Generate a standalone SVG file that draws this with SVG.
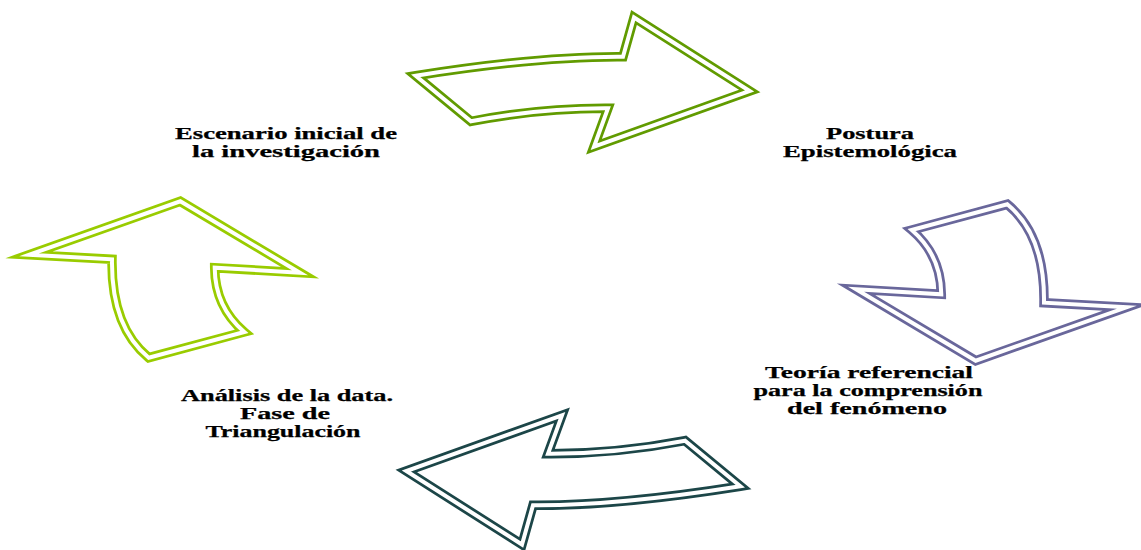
<svg xmlns="http://www.w3.org/2000/svg" width="1141" height="550" viewBox="0 0 1141 550">
  <style>
    .lbl { font-family: "Liberation Serif", "Times New Roman", serif; font-weight: bold; font-size: 16.5px; fill: #000; text-anchor: middle; stroke: #000; stroke-width: 0.25px; }
    .outer { fill: none; stroke-width: 9.5; stroke-linejoin: miter; stroke-miterlimit: 10; }
    .inner { fill: none; stroke: #fff; stroke-width: 4; stroke-linejoin: miter; stroke-miterlimit: 10; }
  </style>
  <defs>
    <path id="harrow" d="M415.7,75.7 Q540,56 623,56.7 L634,17.5 L749.7,91 L594,146.7 L608,108.3 Q540,108 471,121.3 Z"/>
    <path id="varrow" d="M911.7,230 L1007.3,204.3 Q1045,235 1044,302.7 L1126.7,307.3 L975.7,360.7 L856,289.3 L941.3,294.3 Q941,255 911.7,230 Z"/>
  </defs>
  <rect width="1141" height="550" fill="#fff"/>
  <g id="connectors">
    <g id="arrow-top">
      <use href="#harrow" class="outer" stroke="#619b00"/>
      <use href="#harrow" class="inner"/>
    </g>
    <g id="arrow-right">
      <use href="#varrow" class="outer" stroke="#69679b"/>
      <use href="#varrow" class="inner"/>
    </g>
    <g id="arrow-bottom" transform="rotate(180 578 281)">
      <use href="#harrow" class="outer" stroke="#1c4648"/>
      <use href="#harrow" class="inner"/>
    </g>
    <g id="arrow-left" transform="rotate(180 578 281)">
      <use href="#varrow" class="outer" stroke="#99cc00"/>
      <use href="#varrow" class="inner"/>
    </g>
  </g>
  <g id="node-escenario">
    <text class="lbl" x="286" y="139" textLength="222" lengthAdjust="spacingAndGlyphs">Escenario inicial de</text>
    <text class="lbl" x="286" y="157" textLength="188" lengthAdjust="spacingAndGlyphs">la investigación</text>
  </g>
  <g id="node-postura">
    <text class="lbl" x="870" y="139" textLength="88" lengthAdjust="spacingAndGlyphs">Postura</text>
    <text class="lbl" x="870" y="157" textLength="174" lengthAdjust="spacingAndGlyphs">Epistemológica</text>
  </g>
  <g id="node-teoria">
    <text class="lbl" x="869" y="378" textLength="208" lengthAdjust="spacingAndGlyphs">Teoría referencial</text>
    <text class="lbl" x="868" y="396" textLength="229" lengthAdjust="spacingAndGlyphs">para la comprensión</text>
    <text class="lbl" x="867" y="414" textLength="160" lengthAdjust="spacingAndGlyphs">del fenómeno</text>
  </g>
  <g id="node-analisis">
    <text class="lbl" x="287" y="401" textLength="212" lengthAdjust="spacingAndGlyphs">Análisis de la data.</text>
    <text class="lbl" x="285" y="419" textLength="90" lengthAdjust="spacingAndGlyphs">Fase de</text>
    <text class="lbl" x="283" y="437" textLength="155" lengthAdjust="spacingAndGlyphs">Triangulación</text>
  </g>
</svg>
